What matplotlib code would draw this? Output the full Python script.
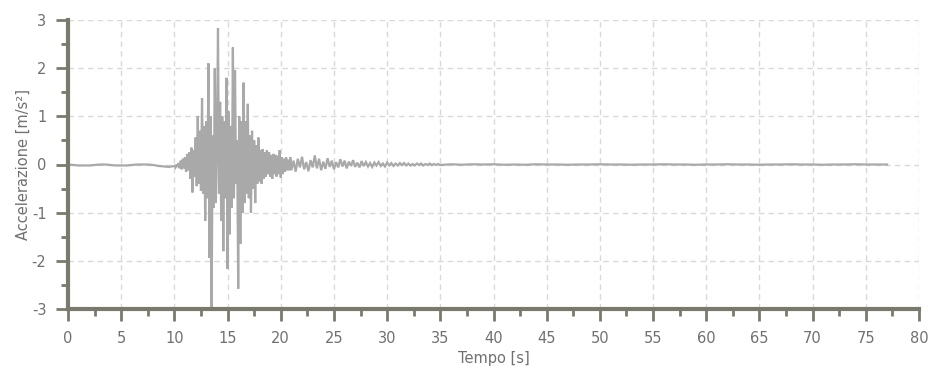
import matplotlib
matplotlib.use("Agg")
import matplotlib.pyplot as plt
from matplotlib.ticker import MultipleLocator
from matplotlib import font_manager

# ---- data ----
# pre-event (0-10 s, 0.5 s spacing)
t_pre = [0.0, 0.5, 1.0, 1.5, 2.0, 2.5, 3.0, 3.5, 4.0, 4.5, 5.0, 5.5, 6.0, 6.5,
         7.0, 7.5, 8.0, 8.5, 9.0, 9.5]
a_pre = [0.00, -0.01, -0.02, -0.02, -0.02, -0.01, 0.00, 0.00, -0.01, -0.02, -0.02,
         -0.02, -0.01, 0.00, 0.00, 0.00, -0.01, -0.03, -0.04, -0.05]

# strong motion (10-21 s, 0.1 s spacing)
t_strong = [10.0, 10.1, 10.2, 10.3, 10.4, 10.5, 10.6, 10.7, 10.8, 10.9,
            11.0, 11.1, 11.2, 11.3, 11.4, 11.5, 11.6, 11.7, 11.8, 11.9,
            12.0, 12.1, 12.2, 12.3, 12.4, 12.5, 12.6, 12.7, 12.8, 12.9,
            13.0, 13.1, 13.2, 13.3, 13.4, 13.5, 13.6, 13.7, 13.8, 13.9,
            14.0, 14.1, 14.2, 14.3, 14.4, 14.5, 14.6, 14.7, 14.8, 14.9,
            15.0, 15.1, 15.2, 15.3, 15.4, 15.5, 15.6, 15.7, 15.8, 15.9,
            16.0, 16.1, 16.2, 16.3, 16.4, 16.5, 16.6, 16.7, 16.8, 16.9,
            17.0, 17.1, 17.2, 17.3, 17.4, 17.5, 17.6, 17.7, 17.8, 17.9,
            18.0, 18.1, 18.2, 18.3, 18.4, 18.5, 18.6, 18.7, 18.8, 18.9,
            19.0, 19.1, 19.2, 19.3, 19.4, 19.5, 19.6, 19.7, 19.8, 19.9,
            20.0, 20.1, 20.2, 20.3, 20.4, 20.5, 20.6, 20.7, 20.8, 20.9]
a_strong = [-0.03, -0.06, 0.00, -0.05, 0.03, -0.08, 0.08, -0.10, 0.12, -0.08,
            0.15, -0.15, 0.22, -0.12, 0.25, -0.30, 0.35, -0.58, 0.30, -0.25,
            0.56, -0.45, 1.00, -0.40, 0.70, -0.55, 1.38, -0.60, 0.80, -1.17,
            0.90, -0.70, 2.10, -1.94, 1.00, -2.98, 0.60, -0.90, 2.00, -0.80,
            0.40, 2.83, -0.60, 1.30, -1.17, 1.00, -1.80, 0.90, -0.70, 1.80,
            -2.17, 1.10, -1.45, 0.80, -0.90, 2.43, -0.70, 1.96, -0.40, 0.50,
            -2.58, 1.00, -1.65, 0.90, -1.00, 1.70, -0.80, 0.90, -0.60, 1.26,
            -0.70, 0.60, -1.00, 0.70, -0.50, 0.50, -0.80, 0.40, -0.40, 0.56,
            -0.35, 0.30, -0.40, 0.32, -0.30, 0.25, -0.25, 0.30, -0.20, 0.25,
            -0.25, 0.20, -0.30, 0.22, -0.20, 0.20, -0.25, 0.18, -0.20, 0.30,
            -0.27, 0.15, -0.20, 0.12, -0.15, 0.15, -0.12, 0.10, -0.12, 0.15]

# coda (21-35 s, 0.2 s spacing)
t_coda = [21.0, 21.2, 21.4, 21.6, 21.8, 22.0, 22.2, 22.4, 22.6, 22.8,
          23.0, 23.2, 23.4, 23.6, 23.8, 24.0, 24.2, 24.4, 24.6, 24.8,
          25.0, 25.2, 25.4, 25.6, 25.8, 26.0, 26.2, 26.4, 26.6, 26.8,
          27.0, 27.2, 27.4, 27.6, 27.8, 28.0, 28.2, 28.4, 28.6, 28.8,
          29.0, 29.2, 29.4, 29.6, 29.8, 30.0, 30.2, 30.4, 30.6, 30.8,
          31.0, 31.2, 31.4, 31.6, 31.8, 32.0, 32.2, 32.4, 32.6, 32.8,
          33.0, 33.2, 33.4, 33.6, 33.8, 34.0, 34.2, 34.4, 34.6, 34.8]
a_coda = [-0.12, 0.08, -0.15, 0.12, -0.06, 0.16, -0.10, 0.05, -0.14, 0.09,
          -0.06, 0.19, -0.08, 0.12, -0.12, 0.06, -0.09, 0.13, -0.05, 0.08,
          -0.10, 0.05, -0.06, 0.11, -0.04, 0.08, -0.08, 0.06, -0.03, 0.09,
          -0.05, 0.04, -0.06, 0.07, -0.03, 0.05, -0.04, 0.03, -0.05, 0.04,
          -0.02, 0.05, -0.03, 0.02, -0.04, 0.04, -0.02, 0.03, -0.03, 0.02,
          -0.02, 0.03, -0.01, 0.03, -0.02, 0.02, -0.02, 0.01, -0.02, 0.02,
          -0.01, 0.02, -0.02, 0.01, -0.01, 0.02, -0.01, 0.01, -0.01, 0.01]

# tail (35-77 s, 1 s spacing)
t_tail = [35, 36, 37, 38, 39, 40, 41, 42, 43, 44, 45, 46, 47, 48, 49, 50,
          51, 52, 53, 54, 55, 56, 57, 58, 59, 60, 61, 62, 63, 64, 65, 66,
          67, 68, 69, 70, 71, 72, 73, 74, 75, 76, 77]
a_tail = [-0.01, 0.005, -0.005, 0.005, 0.00, 0.005, -0.005, 0.00, -0.005, 0.005,
          0.00, 0.00, -0.005, 0.00, 0.00, 0.005, 0.00, 0.00, -0.005, 0.00,
          0.00, 0.005, 0.00, 0.00, -0.005, 0.00, 0.00, 0.005, 0.00, 0.00,
          -0.005, 0.00, 0.00, 0.005, 0.00, 0.00, -0.005, 0.00, 0.00, 0.005,
          0.00, 0.00, 0.00]

x_ticks = list(range(0, 81, 5))
y_ticks = [-3, -2, -1, 0, 1, 2, 3]

t = t_pre + t_strong + t_coda + t_tail
a = a_pre + a_strong + a_coda + a_tail

# ---- font: narrow sans if available ----
installed = {f.name for f in font_manager.fontManager.ttflist}
fam = [f for f in ["Liberation Sans Narrow", "DejaVu Sans Condensed"] if f in installed]
if fam:
    plt.rcParams["font.family"] = fam + ["DejaVu Sans"]
    fsize = 12 if fam[0] == "Liberation Sans Narrow" else 11
else:
    fsize = 10.5
plt.rcParams["axes.unicode_minus"] = False

# ---- figure ----
fig = plt.figure(figsize=(9.29, 3.78), dpi=100)
ax = fig.add_axes([68/929, 1-309/378, (919-68)/929, (309-20)/378])

ax.plot(t, a, color="#a9a9a9", lw=1.6, solid_joinstyle="miter")

ax.set_xlim(0, 80)
ax.set_ylim(-3, 3)
ax.set_xticks(x_ticks)
ax.set_yticks(y_ticks)
ax.xaxis.set_minor_locator(MultipleLocator(2.5))
ax.yaxis.set_minor_locator(MultipleLocator(0.5))

spine_c = "#7a7a6c"
for s in ["top", "right"]:
    ax.spines[s].set_visible(False)
for s in ["left", "bottom"]:
    ax.spines[s].set_color(spine_c)
    ax.spines[s].set_linewidth(3)

ax.tick_params(which="major", direction="out", length=8.5, width=2, color=spine_c,
               labelcolor="#707070", labelsize=fsize, pad=7)
ax.tick_params(which="minor", direction="out", length=5, width=2, color=spine_c)

ax.grid(True, which="major", color="#d9d9d9", linestyle=(0, (4, 3)), linewidth=1)
ax.set_axisbelow(True)

ax.set_xlabel("Tempo [s]", color="#707070", fontsize=fsize, labelpad=4)
ax.set_ylabel("Accelerazione [m/s²]", color="#707070", fontsize=fsize, labelpad=1)

fig.savefig("out.png", dpi=100)
